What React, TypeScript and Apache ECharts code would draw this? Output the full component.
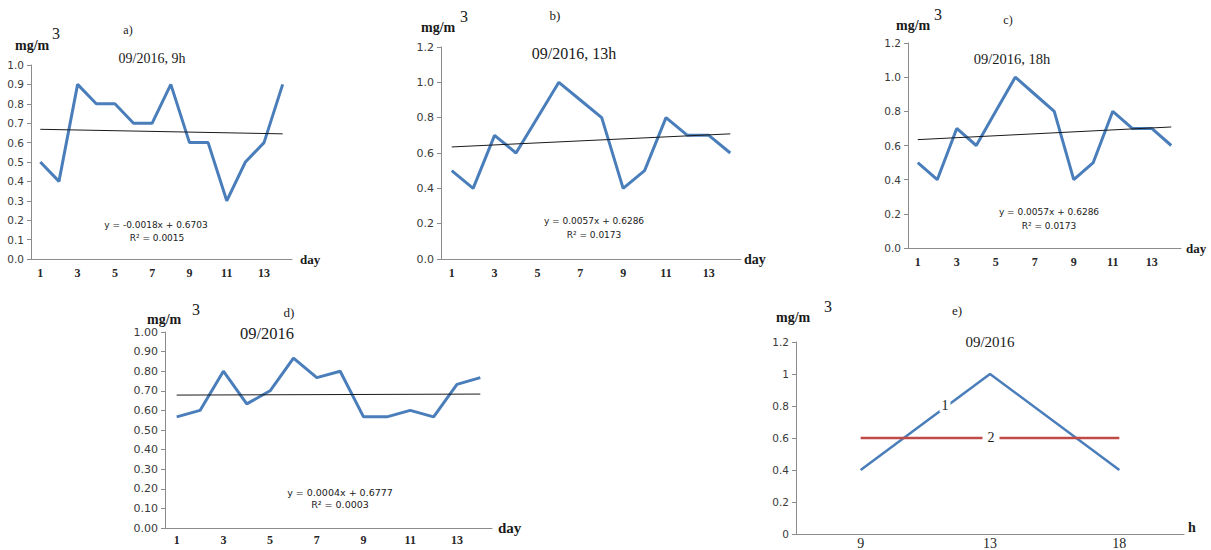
import React, { useEffect, useRef } from "react";
import * as echarts from "echarts";

const days = ["1", "2", "3", "4", "5", "6", "7", "8", "9", "10", "11", "12", "13", "14"];
const conc9h = [0.5, 0.4, 0.9, 0.8, 0.8, 0.7, 0.7, 0.9, 0.6, 0.6, 0.3, 0.5, 0.6, 0.9];
const conc13h = [0.5, 0.4, 0.7, 0.6, 0.8, 1.0, 0.9, 0.8, 0.4, 0.5, 0.8, 0.7, 0.7, 0.6];
const conc18h = [0.5, 0.4, 0.7, 0.6, 0.8, 1.0, 0.9, 0.8, 0.4, 0.5, 0.8, 0.7, 0.7, 0.6];
const concMonth = [0.567, 0.6, 0.8, 0.633, 0.7, 0.867, 0.767, 0.8, 0.567, 0.567, 0.6, 0.567, 0.733, 0.767];
const hours = ["9", "13", "18"];
const concHour = [0.4, 1.0, 0.4];
const concLimit = [0.6, 0.6, 0.6];
// trend line coefficients [slope, intercept]
const trend9h = [-0.0018, 0.6703];
const trend13h = [0.0057, 0.6286];
const trend18h = [0.0057, 0.6286];
const trendMonth = [0.0004, 0.6777];
const eq9h = ["y = -0.0018x + 0.6703", "R² = 0.0015"];
const eq13h = ["y = 0.0057x + 0.6286", "R² = 0.0173"];
const eq18h = ["y = 0.0057x + 0.6286", "R² = 0.0173"];
const eqMonth = ["y = 0.0004x + 0.6777", "R² = 0.0003"];

const BLUE = "#4a7ebb";
const RED = "#be4b48";
const AXIS = "#8c8c8c";
const SERIF = "'Liberation Serif', 'DejaVu Serif', serif";
const SANS = "'DejaVu Sans', sans-serif";

function trendData(c: number[]) {
  const n = days.length;
  return [
    [days[0], c[0] * 1 + c[1]],
    [days[n - 1], c[0] * n + c[1]],
  ];
}

function txt(x: number, y: number, text: string, size: number, opts: any = {}) {
  return {
    type: "text",
    x,
    y,
    z: 100,
    style: {
      text,
      fontFamily: opts.family || SERIF,
      fontSize: size,
      fontWeight: opts.weight || "normal",
      fill: opts.fill || "#1a1a1a",
      align: opts.align || "center",
      verticalAlign: "middle",
      textAlign: opts.align || "center",
      textVerticalAlign: "middle",
      backgroundColor: opts.bg,
      padding: opts.pad,
    },
  };
}

export default function App() {
  const ref = useRef<HTMLDivElement>(null);
  useEffect(() => {
    if (!ref.current) return;
    const chart = echarts.init(ref.current, null, { renderer: "svg" });

    const grids = [
      { left: 31, top: 65, width: 261, height: 194 },
      { left: 441, top: 47, width: 300, height: 212 },
      { left: 908, top: 43, width: 273, height: 205 },
      { left: 165, top: 332, width: 327, height: 196 },
      { left: 796, top: 342, width: 388, height: 192 },
    ];

    const xa = (gi: number, data: string[], name: string, nameSize: number, nameGap: number, extra: any = {}) => ({
      type: "category",
      gridIndex: gi,
      data,
      boundaryGap: true,
      name,
      nameLocation: "end",
      nameGap,
      nameTextStyle: {
        fontFamily: SERIF,
        fontWeight: "bold",
        fontSize: nameSize,
        color: "#1a1a1a",
        verticalAlign: extra.nameVA || "middle",
      },
      axisLine: { lineStyle: { color: AXIS, width: 1 } },
      axisTick: { interval: 0, length: 4, lineStyle: { color: AXIS } },
      axisLabel: {
        interval: extra.labelInterval ?? 1,
        fontFamily: SERIF,
        fontWeight: extra.labelWeight || "bold",
        fontSize: extra.labelSize || 12,
        color: "#262626",
        margin: extra.labelMargin ?? 8,
      },
      splitLine: { show: false },
    });

    const ya = (gi: number, max: number, interval: number, fmt: (v: number) => string, size = 10) => ({
      type: "value",
      gridIndex: gi,
      min: 0,
      max,
      interval,
      axisLine: { show: true, lineStyle: { color: AXIS, width: 1 } },
      axisTick: { show: true, length: 4, lineStyle: { color: AXIS } },
      axisLabel: { fontFamily: SANS, fontSize: size, color: "#3a3a3a", margin: 7, formatter: fmt },
      splitLine: { show: false },
    });

    const f1 = (v: number) => v.toFixed(1);
    const f2 = (v: number) => v.toFixed(2);
    const fd = (v: number) => String(Math.round(v * 10) / 10);

    const line = (gi: number, data: any[], color: string, width: number) => ({
      type: "line",
      xAxisIndex: gi,
      yAxisIndex: gi,
      data,
      showSymbol: false,
      symbol: "none",
      lineStyle: { color, width },
      silent: true,
    });

    const graphic: any[] = [
      // a
      txt(128, 30, "a)", 12),
      txt(152, 58, "09/2016, 9h", 14),
      txt(15, 45, "mg/m", 14, { weight: "bold", align: "left" }),
      txt(52, 33, "3", 16, { align: "left" }),
      txt(156, 225, eq9h[0], 9, { family: SANS }),
      txt(157, 238, eq9h[1], 9, { family: SANS }),
      // b
      txt(555, 15, "b)", 13),
      txt(574, 53, "09/2016, 13h", 16),
      txt(421, 27, "mg/m", 14, { weight: "bold", align: "left" }),
      txt(460, 16, "3", 16, { align: "left" }),
      txt(594, 221, eq13h[0], 9, { family: SANS }),
      txt(594, 235, eq13h[1], 9, { family: SANS }),
      // c
      txt(1008, 20, "c)", 12),
      txt(1012, 59, "09/2016, 18h", 14.5),
      txt(896, 25, "mg/m", 14, { weight: "bold", align: "left" }),
      txt(934, 14, "3", 16, { align: "left" }),
      txt(1049, 212, eq18h[0], 9, { family: SANS }),
      txt(1049, 226, eq18h[1], 9, { family: SANS }),
      // d
      txt(289, 312, "d)", 13),
      txt(267, 333, "09/2016", 16.5),
      txt(147, 319, "mg/m", 14, { weight: "bold", align: "left" }),
      txt(192, 309, "3", 16, { align: "left" }),
      txt(340, 492, eqMonth[0], 9.5, { family: SANS }),
      txt(340, 504, eqMonth[1], 9.5, { family: SANS }),
      // e
      txt(957, 310, "e)", 13),
      txt(990, 342, "09/2016", 15),
      txt(776, 317, "mg/m", 14, { weight: "bold", align: "left" }),
      txt(824, 306, "3", 16, { align: "left" }),
      txt(945, 405, "1", 14, { bg: "#ffffff", pad: [0, 2] }),
      txt(991, 437, "2", 14, { bg: "#ffffff", pad: [0, 5] }),
    ];

    chart.setOption({
      animation: false,
      backgroundColor: "#ffffff",
      grid: grids.map((g) => ({ ...g, containLabel: false })),
      xAxis: [
        xa(0, days, "day", 13, 8),
        xa(1, days, "day", 14, 3),
        xa(2, days, "day", 13, 5),
        xa(3, days, "day", 15, 6, { labelMargin: 6 }),
        xa(4, hours, "h", 14, 4, { labelInterval: 0, labelWeight: "normal", labelSize: 14, labelMargin: 2, nameVA: "bottom" }),
      ],
      yAxis: [
        ya(0, 1, 0.1, f1, 10.5),
        ya(1, 1.2, 0.2, f1, 11),
        ya(2, 1.2, 0.2, f1, 10.5),
        ya(3, 1, 0.1, f2, 11),
        ya(4, 1.2, 0.2, fd, 10.5),
      ],
      series: [
        line(0, conc9h, BLUE, 3),
        line(0, trendData(trend9h), "#1a1a1a", 1),
        line(1, conc13h, BLUE, 3),
        line(1, trendData(trend13h), "#1a1a1a", 1),
        line(2, conc18h, BLUE, 3),
        line(2, trendData(trend18h), "#1a1a1a", 1),
        line(3, concMonth, BLUE, 3),
        line(3, trendData(trendMonth), "#1a1a1a", 1),
        line(4, concHour, BLUE, 2.5),
        line(4, concLimit, RED, 2.5),
      ],
      graphic,
    });
    return () => chart.dispose();
  }, []);

  return (
    <div
      ref={ref}
      style={{ position: "fixed", left: 0, top: 0, width: 1211, height: 550, background: "#fff" }}
    />
  );
}
